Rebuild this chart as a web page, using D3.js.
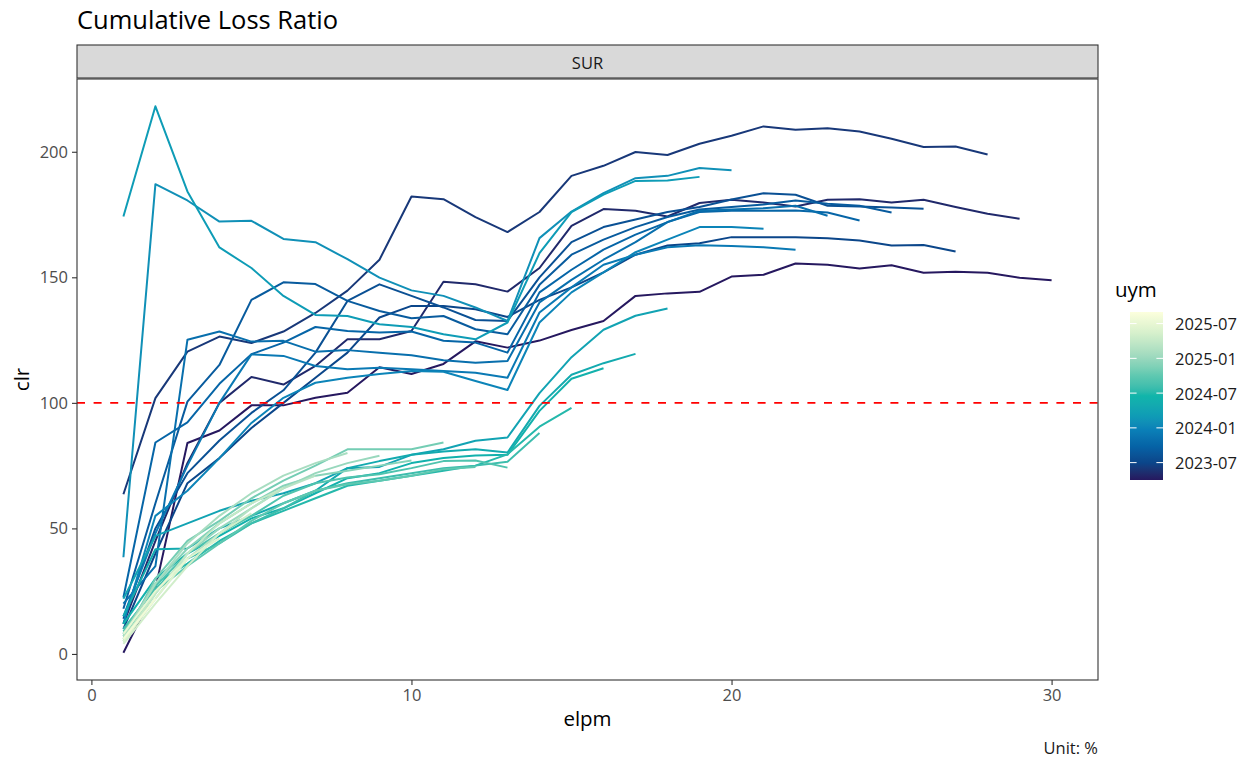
<!DOCTYPE html>
<html>
<head>
<meta charset="utf-8">
<script src="https://cdn.jsdelivr.net/npm/d3@7"></script>
<style>
  body { margin: 0; background: #fff; }
  text { font-family: "Open Sans", "Noto Sans", sans-serif; }
</style>
</head>
<body>
<div id="chart"></div>
<script>
// underwriting year-month cohorts, oldest first
const uym = ["2023-04","2023-05","2023-06","2023-07","2023-08","2023-09","2023-10","2023-11","2023-12",
  "2024-01","2024-02","2024-03","2024-04","2024-05","2024-06","2024-07","2024-08","2024-09","2024-10",
  "2024-11","2024-12","2025-01","2025-02","2025-03","2025-04","2025-05","2025-06","2025-07","2025-08","2025-09"];

// cumulative loss ratio (%) by elapsed month, one array per cohort
const clr_2023_04 = [0.5, 26, 84, 89, 99, 99, 102, 104, 114.2, 111.5, 115.5, 124.5, 122, 124.8, 129, 132.6, 142.6, 143.6, 144.2, 150.3, 151, 155.5, 155, 153.5, 154.8, 151.8, 152.2, 151.8, 149.8, 148.8];
const clr_2023_05 = [12, 45, 76, 100, 110.3, 107.3, 114.7, 125.3, 125.3, 128.6, 148.2, 147.2, 144.3, 153.7, 170.5, 177.2, 176.5, 174.2, 179.6, 180.9, 179.8, 178.2, 180.9, 181.1, 179.8, 180.9, 178, 175.3, 173.3];
const clr_2023_06 = [63.6, 101.9, 120.4, 126.4, 123.8, 128.4, 135.8, 144.7, 157, 182.2, 181.1, 174, 168, 176, 190.4, 194.4, 199.9, 198.7, 203.2, 206.4, 210.1, 208.8, 209.4, 208.1, 205.2, 201.9, 202.1, 198.9];
const clr_2023_07 = [10, 40, 68, 78, 90, 100, 110, 120, 134, 138.6, 138.6, 137.3, 134.2, 141, 146, 152, 159, 162.7, 163.6, 166, 166, 166, 165.6, 164.7, 162.7, 162.9, 160.3];
const clr_2023_08 = [14, 50, 72, 85, 96, 105, 120, 140.6, 147.2, 142.6, 138, 133, 132.6, 150, 164, 170, 173, 176, 178, 181, 183.5, 182.9, 178.5, 178.2, 177.8, 177.3];
const clr_2023_09 = [18, 60, 100.5, 115.1, 141, 148, 147.3, 140.6, 136.6, 133.7, 134.6, 129.3, 127.3, 147, 159, 165, 170, 174, 177, 178, 179, 180.6, 179.3, 178.5, 175.8];
const clr_2023_10 = [22.5, 84.2, 92.2, 107.6, 119.4, 124, 130.2, 128.6, 128, 128.4, 124.7, 124, 120, 144, 153, 161, 167, 172, 176, 176.5, 176.5, 176.6, 175.8, 172.6];
const clr_2023_11 = [20, 35, 125.1, 128.4, 124.4, 124.7, 120.4, 121, 120, 119, 117, 116, 116.7, 140, 149, 157, 164, 172, 176.5, 177, 177.5, 178.5, 174.5];
const clr_2023_12 = [15, 48, 75, 100, 119.3, 118.7, 114.7, 113.4, 114, 113.4, 112.7, 112, 110, 136, 146, 155, 159, 162, 162.8, 162.5, 162, 161];
const clr_2024_01 = [12, 55, 65, 78, 92, 102, 108, 110, 111.5, 112.7, 112.4, 108.7, 105.1, 132, 144, 152, 160, 165, 170, 170, 169.3];
const clr_2024_02 = [38.5, 187.1, 180.6, 172.2, 172.5, 165.3, 164, 157.2, 149.9, 144.8, 142.6, 138, 132.6, 165.6, 176.2, 183.5, 189.5, 190.4, 193.5, 192.6];
const clr_2024_03 = [174.2, 218.1, 184.2, 161.9, 153.7, 142.6, 135, 134.6, 131.3, 130.2, 127.3, 125.3, 132, 159.6, 176, 182.9, 188.4, 188.6, 190];
const clr_2024_04 = [22, 47, 52, 57, 61, 64, 68, 74, 74.5, 79.3, 81.5, 84.9, 86.2, 103.9, 118.2, 129.1, 134.7, 137.6];
const clr_2024_05 = [15, 41.7, 42, 50, 55, 60, 65, 74, 76.8, 79.3, 80.6, 81.5, 80.2, 98.8, 111.2, 115.8, 119.5];
const clr_2024_06 = [12, 30, 40, 47, 54, 58, 64, 70, 72, 76, 78, 79, 79.3, 96.8, 109.6, 113.8];
const clr_2024_07 = [8, 28, 36, 45, 52, 57, 62, 67, 69, 71, 73, 75, 79.5, 90.5, 98];
const clr_2024_08 = [10, 26, 38, 44, 52, 58, 65, 68, 70, 72, 74, 75, 76.5, 88];
const clr_2024_09 = [9, 27, 40, 48, 55, 63, 68, 70.3, 71.6, 74, 76.8, 77, 74.2];
const clr_2024_10 = [7, 25, 35, 44, 53, 60, 65, 67.6, 69, 71, 73.6, 74.5];
const clr_2024_11 = [6, 30, 45, 53, 62, 69, 75, 81.5, 81.5, 81.5, 84.2];
const clr_2024_12 = [8, 28, 42, 52, 60, 67, 71, 73, 75, 77];
const clr_2025_01 = [5, 24, 40, 50, 58, 66, 72, 76, 78.9];
const clr_2025_02 = [7, 28, 44, 55, 64, 71, 76, 80];
const clr_2025_03 = [5, 22, 38, 48, 58, 66, 71];
const clr_2025_04 = [6, 24, 40, 52, 60, 66];
const clr_2025_05 = [4, 20, 35, 48, 56];
const clr_2025_06 = [5, 22, 38, 46];
const clr_2025_07 = [8, 25, 38];
const clr_2025_08 = [6, 22];
const clr_2025_09 = [9];

const clrSeries = [clr_2023_04, clr_2023_05, clr_2023_06, clr_2023_07, clr_2023_08, clr_2023_09, clr_2023_10,
  clr_2023_11, clr_2023_12, clr_2024_01, clr_2024_02, clr_2024_03, clr_2024_04, clr_2024_05, clr_2024_06,
  clr_2024_07, clr_2024_08, clr_2024_09, clr_2024_10, clr_2024_11, clr_2024_12, clr_2025_01, clr_2025_02,
  clr_2025_03, clr_2025_04, clr_2025_05, clr_2025_06, clr_2025_07, clr_2025_08, clr_2025_09];

const yTicks = [0, 50, 100, 150, 200];
const xTicks = [0, 10, 20, 30];
const legendLabels = ["2023-07", "2024-01", "2024-07", "2025-01", "2025-07"];
const threshold = 100;

function renderChart() {
    const W = 1260, H = 770;
    const panel = {left: 77, right: 1098, top: 79, bottom: 680};

    const rows = [];
    clrSeries.forEach(function (vals, i) {
        vals.forEach(function (v, j) {
            rows.push({uym: uym[i], idx: i, elpm: j + 1, clr: v});
        });
    });

    const svg = d3.select("#chart").append("svg")
        .attr("width", W)
        .attr("height", H);

    // ggplot style 5% expansion
    const xExt = d3.extent(rows, d => d.elpm);
    const yExt = d3.extent(rows, d => d.clr);
    const xPad = (xExt[1] - xExt[0]) * 0.05, yPad = (yExt[1] - yExt[0]) * 0.05;

    const x = d3.scaleLinear()
        .domain([xExt[0] - xPad, xExt[1] + xPad])
        .range([panel.left, panel.right]);

    const y = d3.scaleLinear()
        .domain([yExt[0] - yPad, yExt[1] + yPad])
        .range([panel.bottom, panel.top]);

    const color = d3.scaleLinear()
        .domain([0, 0.05, 0.1, 0.2, 0.3, 0.38, 0.5, 0.62, 0.75, 0.88, 1])
        .range(["#26185F", "#1c3070", "#0b4589", "#0563a6", "#0a80b8", "#0e9cb6", "#10b5aa",
                "#5ec8b0", "#a5dcc0", "#d8f1cc", "#fcffdd"])
        .interpolate(d3.interpolateLab);
    const colorOf = i => color(i / (uym.length - 1));

    // title
    svg.append("text")
        .attr("x", panel.left)
        .attr("y", 29)
        .style("font-size", "25.5px")
        .style("fill", "#000")
        .text("Cumulative Loss Ratio");

    // facet strip
    svg.append("rect")
        .attr("x", panel.left)
        .attr("y", 45)
        .attr("width", panel.right - panel.left)
        .attr("height", 33)
        .style("fill", "#d9d9d9")
        .style("stroke", "#333")
        .style("stroke-width", 1.1);
    svg.append("text")
        .attr("x", (panel.left + panel.right) / 2)
        .attr("y", 62)
        .attr("text-anchor", "middle")
        .attr("dominant-baseline", "central")
        .style("font-size", "16.5px")
        .style("fill", "#1a1a1a")
        .text("SUR");

    // panel background
    svg.append("rect")
        .attr("x", panel.left)
        .attr("y", panel.top)
        .attr("width", panel.right - panel.left)
        .attr("height", panel.bottom - panel.top)
        .style("fill", "#fff");

    // axes
    const xAxis = svg.append("g")
        .attr("transform", "translate(0," + panel.bottom + ")")
        .call(d3.axisBottom(x).tickValues(xTicks).tickSize(5).tickSizeOuter(0).tickPadding(4));
    const yAxis = svg.append("g")
        .attr("transform", "translate(" + panel.left + ",0)")
        .call(d3.axisLeft(y).tickValues(yTicks).tickSize(5).tickSizeOuter(0).tickPadding(4));
    [xAxis, yAxis].forEach(function (ax) {
        ax.select(".domain").remove();
        ax.selectAll(".tick line").style("stroke", "#333").style("stroke-width", 1.1);
        ax.selectAll(".tick text")
            .style("font-family", "'Open Sans', 'Noto Sans', sans-serif")
            .style("font-size", "16.5px")
            .style("fill", "#4d4d4d");
    });

    // lines, one per cohort
    const line = d3.line()
        .x(d => x(d.elpm))
        .y(d => y(d.clr));

    const groups = d3.groups(rows, d => d.idx);
    svg.append("g")
        .selectAll("path")
        .data(groups)
        .enter()
        .append("path")
        .attr("d", d => line(d[1]))
        .style("fill", "none")
        .style("stroke", d => colorOf(d[0]))
        .style("stroke-width", 2)
        .style("stroke-linejoin", "round");

    // 100% reference
    svg.append("line")
        .attr("x1", panel.left)
        .attr("x2", panel.right)
        .attr("y1", y(threshold))
        .attr("y2", y(threshold))
        .style("stroke", "#ff0000")
        .style("stroke-width", 1.8)
        .style("stroke-dasharray", "8,8.6");

    // panel border
    svg.append("rect")
        .attr("x", panel.left)
        .attr("y", panel.top)
        .attr("width", panel.right - panel.left)
        .attr("height", panel.bottom - panel.top)
        .style("fill", "none")
        .style("stroke", "#333")
        .style("stroke-width", 1.1);

    // axis titles and caption
    svg.append("text")
        .attr("x", (panel.left + panel.right) / 2)
        .attr("y", 726)
        .attr("text-anchor", "middle")
        .style("font-size", "20.5px")
        .text("elpm");
    svg.append("text")
        .attr("transform", "translate(29," + ((panel.top + panel.bottom) / 2) + ") rotate(-90)")
        .attr("text-anchor", "middle")
        .style("font-size", "20.5px")
        .text("clr");
    svg.append("text")
        .attr("x", panel.right)
        .attr("y", 754)
        .attr("text-anchor", "end")
        .style("font-size", "16.5px")
        .style("fill", "#1a1a1a")
        .text("Unit: %");

    renderLegend(svg, color);
}

function renderLegend(svg, color) {
    const bar = {x: 1130, y: 312, w: 33, h: 168};
    const monthIndex = s => {
        const p = s.split("-");
        return (+p[0]) * 12 + (+p[1]) - 1;
    };
    const m0 = monthIndex(uym[0]), m1 = monthIndex(uym[uym.length - 1]);
    const ly = d3.scaleLinear().domain([m0, m1]).range([bar.y + bar.h, bar.y]);

    const grad = svg.append("defs").append("linearGradient")
        .attr("id", "uym-grad")
        .attr("x1", 0).attr("y1", 1).attr("x2", 0).attr("y2", 0);
    d3.range(0, 1.0001, 0.025).forEach(function (t) {
        grad.append("stop")
            .attr("offset", t)
            .attr("stop-color", color(t));
    });

    svg.append("text")
        .attr("x", 1115)
        .attr("y", 297)
        .style("font-size", "20.5px")
        .text("uym");

    svg.append("rect")
        .attr("x", bar.x)
        .attr("y", bar.y)
        .attr("width", bar.w)
        .attr("height", bar.h)
        .style("fill", "url(#uym-grad)");

    legendLabels.forEach(function (lab) {
        const yy = ly(monthIndex(lab));
        svg.append("line")
            .attr("x1", bar.x).attr("x2", bar.x + bar.w / 5)
            .attr("y1", yy).attr("y2", yy)
            .style("stroke", "#fff").style("stroke-width", 1);
        svg.append("line")
            .attr("x1", bar.x + bar.w * 4 / 5).attr("x2", bar.x + bar.w)
            .attr("y1", yy).attr("y2", yy)
            .style("stroke", "#fff").style("stroke-width", 1);
        svg.append("text")
            .attr("x", bar.x + bar.w + 12)
            .attr("y", yy)
            .attr("dominant-baseline", "central")
            .style("font-size", "16.5px")
            .style("fill", "#1a1a1a")
            .text(lab);
    });
}

renderChart();
</script>
</body>
</html>
